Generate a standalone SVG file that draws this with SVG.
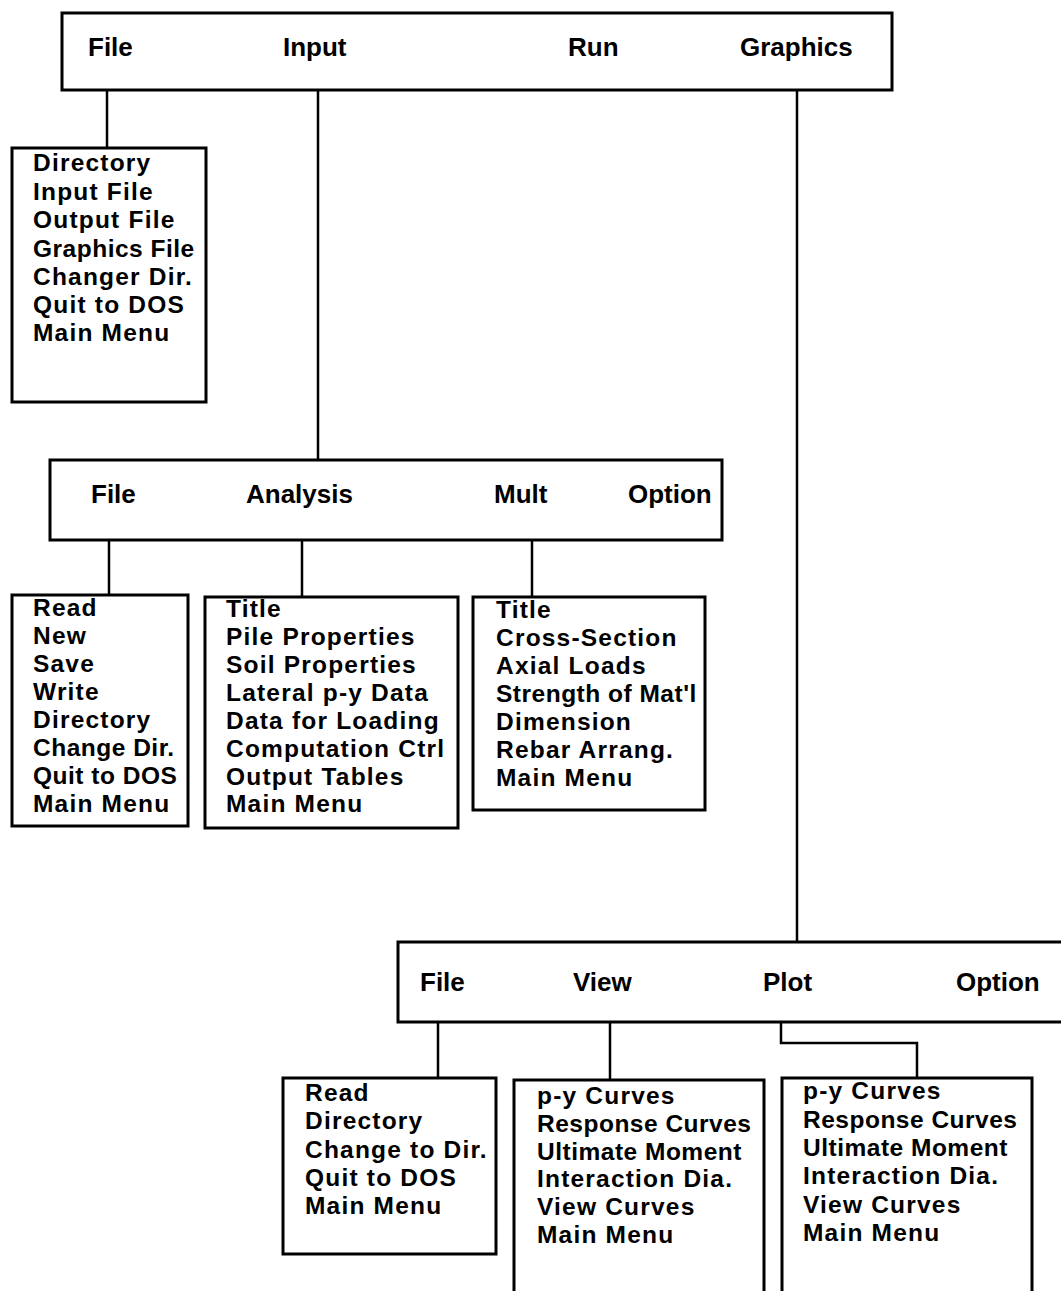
<svg xmlns="http://www.w3.org/2000/svg" width="1061" height="1291" viewBox="0 0 1061 1291">
<style>
.box{fill:none;stroke:#000;stroke-width:3}
.ln{fill:none;stroke:#000;stroke-width:2.5}
text{font-family:"Liberation Sans",Arial,sans-serif;font-weight:bold;font-size:24.5px;letter-spacing:1.2px;fill:#000}
text.hd{font-size:26px;letter-spacing:0}
text.tight{letter-spacing:0.5px}
</style>
<rect width="1061" height="1291" fill="#fff"/>
<g id="connectors">
<path class="ln" d="M107 90V148"/>
<path class="ln" d="M318 90V460"/>
<path class="ln" d="M797 90V942"/>
<path class="ln" d="M109 540V595"/>
<path class="ln" d="M302 540V597"/>
<path class="ln" d="M532 540V597"/>
<path class="ln" d="M438 1022V1078"/>
<path class="ln" d="M610 1022V1080"/>
<path class="ln" d="M781 1022V1043H917V1078"/>
</g>
<g id="main-menu">
<rect class="box" x="62" y="13" width="830" height="77"/>
<text class="hd" x="88" y="56">File</text>
<text class="hd" x="283" y="56">Input</text>
<text class="hd" x="568" y="56">Run</text>
<text class="hd" x="740" y="56">Graphics</text>
</g>
<g id="file-menu">
<rect class="box" x="12" y="148" width="194" height="254"/>
<text x="33" y="171">Directory</text>
<text x="33" y="199.5">Input File</text>
<text x="33" y="228">Output File</text>
<text class="tight" x="33" y="256.5">Graphics File</text>
<text x="33" y="285">Changer Dir.</text>
<text x="33" y="313">Quit to DOS</text>
<text x="33" y="341">Main Menu</text>
</g>
<g id="input-menu">
<rect class="box" x="50" y="460" width="672" height="80"/>
<text class="hd" x="91" y="503">File</text>
<text class="hd" x="246" y="503">Analysis</text>
<text class="hd" x="494" y="503">Mult</text>
<text class="hd" x="628" y="503">Option</text>
</g>
<g id="input-file">
<rect class="box" x="12" y="595" width="176" height="231"/>
<text x="33" y="616">Read</text>
<text x="33" y="644">New</text>
<text x="33" y="672">Save</text>
<text x="33" y="700">Write</text>
<text x="33" y="728">Directory</text>
<text class="tight" x="33" y="756">Change Dir.</text>
<text class="tight" x="33" y="784">Quit to DOS</text>
<text x="33" y="812">Main Menu</text>
</g>
<g id="input-analysis">
<rect class="box" x="205" y="597" width="253" height="231"/>
<text x="226" y="617">Title</text>
<text x="226" y="645">Pile Properties</text>
<text x="226" y="673">Soil Properties</text>
<text x="226" y="701">Lateral p-y Data</text>
<text x="226" y="729">Data for Loading</text>
<text x="226" y="757">Computation Ctrl</text>
<text x="226" y="785">Output Tables</text>
<text x="226" y="812">Main Menu</text>
</g>
<g id="input-mult">
<rect class="box" x="473" y="597" width="232" height="213"/>
<text x="496" y="618">Title</text>
<text x="496" y="646">Cross-Section</text>
<text x="496" y="674">Axial Loads</text>
<text class="tight" x="496" y="702">Strength of Mat'l</text>
<text x="496" y="730">Dimension</text>
<text x="496" y="758">Rebar Arrang.</text>
<text x="496" y="786">Main Menu</text>
</g>
<g id="graphics-menu">
<path class="box" d="M1064 942H398V1022H1064"/>
<text class="hd" x="420" y="991">File</text>
<text class="hd" x="573" y="991">View</text>
<text class="hd" x="763" y="991">Plot</text>
<text class="hd" x="956" y="991">Option</text>
</g>
<g id="graphics-file">
<rect class="box" x="283" y="1078" width="213" height="176"/>
<text x="305" y="1101">Read</text>
<text x="305" y="1129">Directory</text>
<text x="305" y="1158">Change to Dir.</text>
<text x="305" y="1186">Quit to DOS</text>
<text x="305" y="1214">Main Menu</text>
</g>
<g id="graphics-view">
<path class="box" d="M514 1294V1080H764V1294"/>
<text x="537" y="1104">p-y Curves</text>
<text class="tight" x="537" y="1132">Response Curves</text>
<text class="tight" x="537" y="1160">Ultimate Moment</text>
<text x="537" y="1187">Interaction Dia.</text>
<text x="537" y="1215">View Curves</text>
<text x="537" y="1243">Main Menu</text>
</g>
<g id="graphics-plot">
<path class="box" d="M782 1294V1078H1032V1294"/>
<text x="803" y="1099">p-y Curves</text>
<text class="tight" x="803" y="1128">Response Curves</text>
<text class="tight" x="803" y="1156">Ultimate Moment</text>
<text x="803" y="1184">Interaction Dia.</text>
<text x="803" y="1213">View Curves</text>
<text x="803" y="1241">Main Menu</text>
</g>
</svg>
